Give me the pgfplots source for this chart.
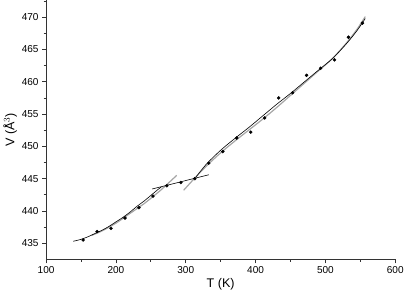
\documentclass[border=0pt]{standalone}
\usepackage{fontspec}
\setmainfont{Liberation Sans}
\usepackage{pgfplots}
\pgfplotsset{compat=1.18}
\begin{document}
\begin{tikzpicture}
\begin{axis}[
  scale only axis, width=348pt, height=258pt,
  xmin=100, xmax=600, ymin=432.5, ymax=472.6,
  axis x line*=bottom, axis y line*=left,
  axis line style={line width=0.9pt, black!80},
  tick align=outside,
  xtick={100,200,...,600}, minor xtick={150,250,...,550},
  ytick={435,440,...,470}, minor ytick={437.5,442.5,...,472.5},
  major tick length=4pt, minor tick length=2.5pt,
  tick style={line width=0.8pt, black!80},
  /pgf/number format/assume math mode=true,
  /pgf/number format/.cd, 1000 sep={}, /pgfplots/.cd,
  ticklabel style={font=\fontsize{10}{12}\selectfont},
  xlabel={T (K)}, ylabel={V (Å$^3$)},
  label style={font=\fontsize{12.5}{14}\selectfont},
  xlabel style={yshift=2pt},
  ylabel style={yshift=-2pt},
]
% grey fitted curves
\addplot[gray!70, line width=1.2pt, smooth] coordinates {
(165,436.2)(180,436.9)(200,438.1)(220,439.6)(240,441.1)(255,442.4)(265,443.3)(287,445.5)};
\addplot[gray!70, line width=1.2pt, smooth] coordinates {
(297,443.2)(313,445.1)(330,447.0)(350,449.0)(370,450.8)(390,452.5)(410,454.2)(430,456.0)(450,457.9)(470,459.8)(490,461.7)(510,463.6)(530,466.0)(545,468.1)(557,470.1)};
% black fits
\addplot[black, line width=0.6pt, smooth] coordinates {
(139,435.3)(150,435.6)(160,436.0)(170,436.5)(180,437.0)(190,437.6)(200,438.3)(210,439.0)(220,439.8)(230,440.7)(240,441.5)(250,442.4)(260,443.3)(265,443.7)};
\addplot[black, line width=0.6pt] coordinates {(252,443.4)(333,445.6)};
\addplot[black, line width=0.6pt, smooth] coordinates {
(315,445.3)(330,447.3)(350,449.4)(370,451.2)(390,452.9)(410,454.7)(430,456.5)(450,458.2)(470,460.0)(490,461.8)(510,463.6)(530,465.9)(545,467.9)(557,469.8)};
% data points
\addplot[only marks, mark=*, mark size=1.5pt, black] coordinates {
(153,435.5)(173,436.8)(193,437.3)(213,438.9)(233,440.5)(253,442.3)(273,443.9)(293,444.4)(313,445.0)(333,447.4)(353,449.2)(373,451.3)(393,452.2)(413,454.4)(433,457.5)(453,458.3)(473,461.0)(493,462.1)(513,463.4)(533,466.9)(553,469.1)};
\end{axis}
\end{tikzpicture}
\end{document}
